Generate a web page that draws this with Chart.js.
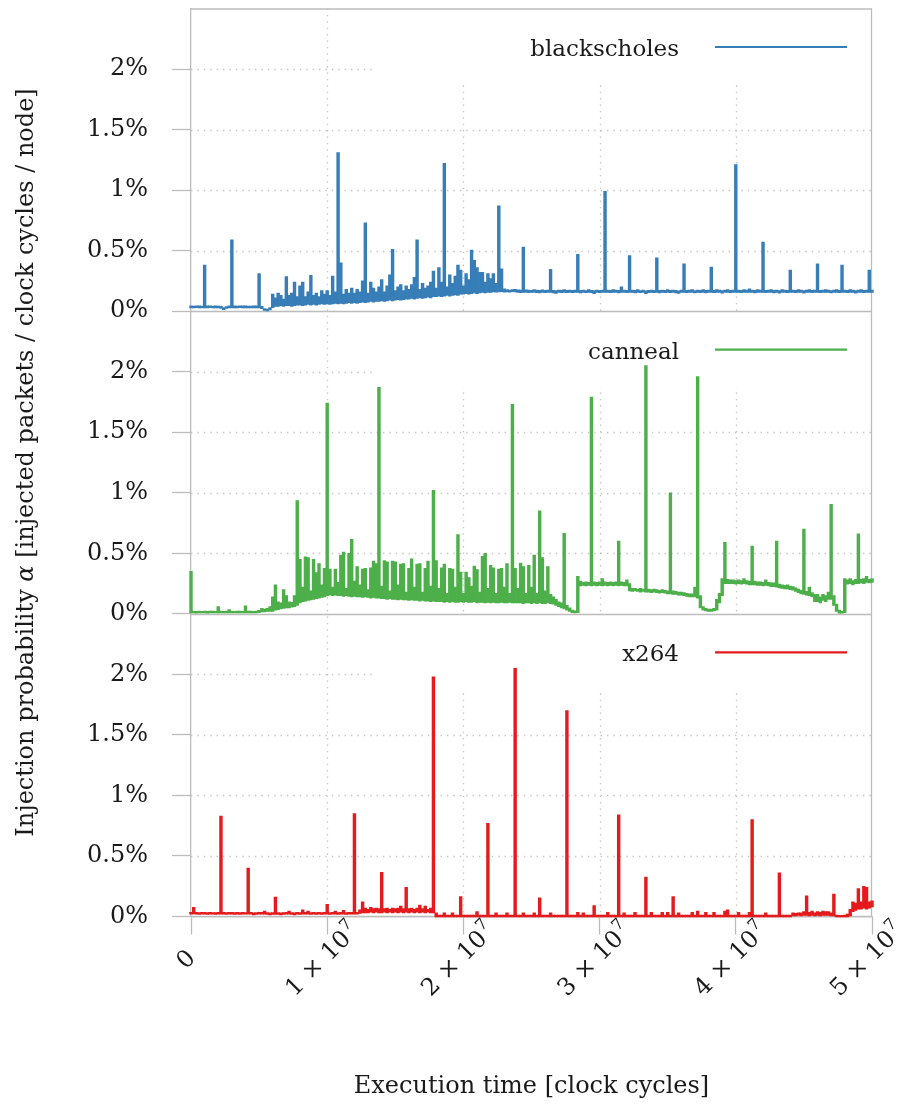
<!DOCTYPE html>
<html>
<head>
<meta charset="utf-8">
<script src="https://cdn.jsdelivr.net/npm/chart.js@4.4.1/dist/chart.umd.min.js"></script>
<style>
  html, body { margin: 0; padding: 0; background: #ffffff; }
  #wrap { width: 902px; height: 1108px; }
</style>
</head>
<body>
<div id="wrap"><canvas id="c" width="902" height="1108"></canvas></div>
<script>
// Injection probability traces, percent per node and clock cycle.
// Each sample covers 0.2 M cycles and stores the lowest and highest value in that window.
const seriesNames  = ['blackscholes', 'canneal', 'x264'];
const seriesColors = ['#377eb8', '#4daf4a', '#e41a1c'];
const sampleStep = 2e5;

const blackscholesHigh = [
  0.043,0.042,0.044,0.043,0.042,0.38,0.043,0.044,0.042,0.043,
  0.042,0.04,0.03,0.038,0.043,0.59,0.043,0.042,0.044,0.043,
  0.043,0.042,0.042,0.043,0.043,0.31,0.04,0.022,0.018,0.03,
  0.14,0.11,0.15,0.13,0.10,0.285,0.13,0.15,0.24,0.12,
  0.21,0.24,0.12,0.16,0.295,0.13,0.15,0.12,0.17,0.14,
  0.17,0.13,0.29,0.16,1.31,0.40,0.14,0.18,0.15,0.19,
  0.15,0.18,0.16,0.25,0.73,0.15,0.24,0.19,0.16,0.20,
  0.26,0.16,0.21,0.30,0.51,0.17,0.20,0.22,0.17,0.21,
  0.18,0.22,0.28,0.59,0.18,0.23,0.19,0.21,0.24,0.33,
  0.19,0.36,0.24,1.22,0.20,0.30,0.23,0.29,0.38,0.34,
  0.21,0.31,0.26,0.505,0.42,0.36,0.32,0.32,0.24,0.31,
  0.27,0.31,0.23,0.87,0.35,0.185,0.178,0.175,0.178,0.18,
  0.176,0.174,0.53,0.176,0.174,0.172,0.178,0.174,0.172,0.176,
  0.172,0.174,0.345,0.172,0.17,0.175,0.172,0.178,0.172,0.174,
  0.172,0.175,0.47,0.172,0.175,0.17,0.178,0.172,0.17,0.175,
  0.172,0.175,0.99,0.175,0.172,0.178,0.175,0.172,0.20,0.175,
  0.172,0.46,0.175,0.172,0.178,0.17,0.175,0.168,0.172,0.175,
  0.172,0.44,0.172,0.175,0.172,0.178,0.172,0.175,0.172,0.168,
  0.175,0.39,0.172,0.175,0.178,0.17,0.175,0.172,0.178,0.172,
  0.175,0.365,0.172,0.178,0.175,0.17,0.175,0.178,0.172,0.175,
  1.21,0.175,0.172,0.178,0.175,0.185,0.175,0.172,0.178,0.175,
  0.57,0.172,0.175,0.178,0.172,0.175,0.17,0.178,0.175,0.172,
  0.34,0.175,0.172,0.178,0.175,0.17,0.175,0.178,0.172,0.175,
  0.39,0.172,0.175,0.178,0.175,0.17,0.175,0.178,0.172,0.38,
  0.175,0.172,0.178,0.175,0.17,0.175,0.178,0.172,0.175,0.34,
  0.175
];
const blackscholesLow = [
  0.028,0.028,0.029,0.028,0.028,0.028,0.028,0.029,0.028,0.028,
  0.027,0.022,0.012,0.022,0.028,0.028,0.028,0.028,0.029,0.028,
  0.028,0.028,0.027,0.028,0.028,0.028,0.02,0.006,0.003,0.01,
  0.03,0.04,0.04,0.045,0.04,0.045,0.045,0.04,0.045,0.05,
  0.05,0.045,0.05,0.055,0.05,0.055,0.05,0.055,0.06,0.055,
  0.06,0.055,0.06,0.065,0.06,0.065,0.06,0.065,0.07,0.065,
  0.07,0.065,0.07,0.075,0.07,0.075,0.08,0.075,0.08,0.08,
  0.085,0.08,0.085,0.09,0.085,0.09,0.095,0.09,0.095,0.1,
  0.1,0.105,0.1,0.105,0.11,0.105,0.11,0.115,0.11,0.12,
  0.12,0.125,0.12,0.125,0.13,0.125,0.13,0.135,0.13,0.14,
  0.14,0.145,0.14,0.145,0.15,0.145,0.15,0.155,0.15,0.155,
  0.155,0.16,0.158,0.16,0.162,0.158,0.16,0.158,0.162,0.16,
  0.155,0.153,0.155,0.156,0.152,0.154,0.156,0.153,0.15,0.155,
  0.152,0.155,0.154,0.15,0.146,0.155,0.152,0.156,0.153,0.154,
  0.152,0.155,0.154,0.15,0.155,0.152,0.156,0.153,0.145,0.155,
  0.153,0.155,0.156,0.155,0.152,0.156,0.155,0.15,0.156,0.155,
  0.152,0.155,0.155,0.15,0.156,0.152,0.155,0.145,0.152,0.155,
  0.152,0.155,0.15,0.155,0.152,0.156,0.152,0.155,0.15,0.146,
  0.155,0.154,0.152,0.155,0.156,0.15,0.155,0.152,0.156,0.15,
  0.155,0.154,0.152,0.156,0.155,0.148,0.155,0.156,0.152,0.155,
  0.155,0.155,0.152,0.156,0.155,0.155,0.155,0.15,0.156,0.155,
  0.155,0.152,0.155,0.156,0.15,0.155,0.148,0.156,0.155,0.152,
  0.155,0.155,0.152,0.156,0.155,0.148,0.155,0.156,0.152,0.155,
  0.155,0.152,0.155,0.156,0.155,0.15,0.155,0.156,0.152,0.155,
  0.155,0.152,0.156,0.155,0.148,0.155,0.156,0.152,0.155,0.155,
  0.155
];

const cannealHigh = [
  0.35,0.022,0.02,0.022,0.021,0.022,0.02,0.022,0.022,0.021,
  0.06,0.022,0.021,0.022,0.035,0.022,0.021,0.022,0.022,0.021,
  0.065,0.022,0.022,0.021,0.022,0.028,0.045,0.04,0.045,0.06,
  0.14,0.24,0.10,0.09,0.20,0.15,0.10,0.095,0.15,0.935,
  0.45,0.22,0.47,0.465,0.19,0.45,0.34,0.415,0.24,0.375,
  1.74,0.37,0.22,0.37,0.26,0.485,0.51,0.21,0.50,0.615,
  0.27,0.39,0.24,0.37,0.375,0.20,0.38,0.435,0.415,1.87,
  0.23,0.44,0.43,0.19,0.435,0.43,0.24,0.41,0.415,0.18,
  0.375,0.455,0.22,0.41,0.415,0.18,0.375,0.435,0.23,1.02,
  0.44,0.21,0.38,0.41,0.17,0.375,0.37,0.22,0.655,0.345,
  0.17,0.345,0.30,0.23,0.395,0.365,0.18,0.475,0.50,0.21,
  0.40,0.38,0.17,0.37,0.375,0.22,0.415,0.17,1.73,0.375,
  0.21,0.42,0.39,0.17,0.40,0.22,0.485,0.17,0.85,0.465,
  0.19,0.39,0.16,0.14,0.12,0.10,0.09,0.665,0.07,0.05,
  0.03,0.025,0.31,0.27,0.26,0.265,0.26,1.79,0.265,0.26,
  0.265,0.29,0.265,0.26,0.265,0.26,0.265,0.60,0.265,0.26,
  0.28,0.25,0.21,0.21,0.205,0.21,0.205,2.05,0.205,0.20,
  0.205,0.20,0.195,0.20,0.195,0.19,1.0,0.19,0.185,0.18,
  0.18,0.175,0.17,0.165,0.165,0.22,1.96,0.15,0.06,0.045,
  0.04,0.04,0.045,0.12,0.17,0.29,0.59,0.285,0.28,0.28,
  0.275,0.28,0.275,0.29,0.275,0.27,0.56,0.27,0.265,0.265,
  0.26,0.28,0.26,0.255,0.255,0.60,0.245,0.24,0.235,0.24,
  0.23,0.225,0.215,0.205,0.195,0.70,0.185,0.22,0.175,0.16,
  0.16,0.14,0.16,0.15,0.18,0.905,0.15,0.08,0.03,0.02,
  0.29,0.28,0.29,0.275,0.285,0.66,0.285,0.29,0.31,0.285,
  0.29
];
const cannealLow = [
  0.008,0.008,0.006,0.008,0.007,0.008,0.006,0.008,0.008,0.007,
  0.008,0.008,0.007,0.008,0.008,0.008,0.007,0.008,0.008,0.007,
  0.008,0.008,0.008,0.007,0.008,0.01,0.015,0.015,0.02,0.02,
  0.02,0.03,0.035,0.04,0.045,0.05,0.05,0.055,0.06,0.07,
  0.09,0.1,0.105,0.11,0.115,0.12,0.125,0.13,0.135,0.14,
  0.15,0.155,0.15,0.155,0.15,0.15,0.145,0.15,0.145,0.14,
  0.145,0.14,0.14,0.135,0.14,0.135,0.13,0.135,0.13,0.13,
  0.125,0.125,0.12,0.125,0.12,0.12,0.115,0.12,0.115,0.115,
  0.11,0.115,0.11,0.11,0.105,0.11,0.105,0.105,0.1,0.105,
  0.1,0.1,0.1,0.095,0.1,0.095,0.1,0.095,0.095,0.1,
  0.095,0.1,0.095,0.095,0.1,0.09,0.095,0.095,0.09,0.095,
  0.09,0.095,0.09,0.09,0.095,0.09,0.09,0.095,0.09,0.09,
  0.09,0.09,0.085,0.09,0.09,0.085,0.09,0.085,0.09,0.085,
  0.085,0.09,0.085,0.08,0.07,0.06,0.05,0.04,0.03,0.02,
  0.01,0.008,0.01,0.23,0.235,0.23,0.235,0.23,0.235,0.23,
  0.235,0.23,0.235,0.23,0.235,0.23,0.235,0.23,0.235,0.23,
  0.23,0.19,0.185,0.19,0.185,0.18,0.185,0.18,0.18,0.175,
  0.18,0.175,0.17,0.175,0.17,0.165,0.165,0.16,0.16,0.155,
  0.155,0.15,0.145,0.14,0.14,0.14,0.13,0.05,0.03,0.025,
  0.02,0.02,0.025,0.03,0.09,0.15,0.25,0.25,0.25,0.25,
  0.245,0.25,0.245,0.25,0.245,0.24,0.24,0.24,0.235,0.235,
  0.23,0.235,0.23,0.225,0.225,0.22,0.215,0.21,0.205,0.205,
  0.2,0.195,0.185,0.175,0.165,0.16,0.155,0.15,0.14,0.1,
  0.1,0.09,0.11,0.1,0.12,0.12,0.07,0.02,0.005,0.005,
  0.01,0.245,0.25,0.24,0.25,0.25,0.255,0.25,0.26,0.255,
  0.26
];

const x264High = [
  0.035,0.075,0.035,0.032,0.035,0.034,0.032,0.035,0.033,0.032,
  0.035,0.83,0.035,0.032,0.034,0.035,0.032,0.034,0.032,0.035,
  0.033,0.40,0.035,0.03,0.032,0.035,0.034,0.045,0.032,0.03,
  0.032,0.16,0.032,0.03,0.032,0.035,0.045,0.032,0.03,0.035,
  0.032,0.055,0.035,0.045,0.032,0.034,0.032,0.035,0.032,0.034,
  0.10,0.032,0.035,0.045,0.032,0.035,0.05,0.032,0.035,0.034,
  0.85,0.035,0.055,0.12,0.07,0.06,0.075,0.065,0.07,0.065,
  0.365,0.065,0.07,0.06,0.07,0.065,0.07,0.085,0.065,0.24,
  0.065,0.07,0.06,0.07,0.095,0.065,0.085,0.06,0.07,1.98,
  0.03,0.012,0.012,0.03,0.012,0.012,0.03,0.012,0.012,0.165,
  0.012,0.012,0.012,0.012,0.012,0.04,0.012,0.012,0.012,0.77,
  0.012,0.012,0.03,0.012,0.012,0.012,0.03,0.012,0.012,2.05,
  0.012,0.012,0.03,0.012,0.012,0.012,0.03,0.012,0.155,0.012,
  0.012,0.012,0.03,0.012,0.012,0.012,0.012,0.012,1.70,0.012,
  0.012,0.012,0.035,0.012,0.03,0.012,0.012,0.012,0.09,0.012,
  0.012,0.012,0.012,0.035,0.012,0.012,0.012,0.84,0.012,0.03,
  0.012,0.012,0.012,0.035,0.012,0.012,0.012,0.325,0.012,0.035,
  0.012,0.012,0.012,0.035,0.012,0.035,0.012,0.165,0.012,0.03,
  0.012,0.012,0.012,0.012,0.035,0.012,0.045,0.012,0.012,0.035,
  0.012,0.012,0.035,0.012,0.012,0.012,0.045,0.055,0.012,0.012,
  0.012,0.035,0.012,0.012,0.012,0.035,0.80,0.012,0.012,0.012,
  0.012,0.03,0.012,0.012,0.012,0.012,0.36,0.012,0.012,0.012,
  0.012,0.03,0.025,0.03,0.03,0.04,0.17,0.035,0.045,0.03,
  0.04,0.035,0.045,0.04,0.04,0.03,0.185,0.012,0.01,0.01,
  0.012,0.02,0.06,0.12,0.11,0.23,0.12,0.25,0.24,0.12,
  0.13
];
const x264Low = [
  0.02,0.022,0.02,0.018,0.02,0.02,0.018,0.02,0.02,0.018,
  0.02,0.02,0.02,0.018,0.02,0.02,0.018,0.02,0.018,0.02,
  0.02,0.02,0.02,0.014,0.018,0.02,0.02,0.02,0.018,0.014,
  0.018,0.018,0.018,0.014,0.018,0.02,0.02,0.018,0.014,0.02,
  0.018,0.02,0.02,0.02,0.018,0.02,0.018,0.02,0.018,0.02,
  0.02,0.018,0.02,0.02,0.018,0.02,0.02,0.018,0.02,0.02,
  0.02,0.02,0.025,0.03,0.03,0.03,0.035,0.03,0.035,0.03,
  0.03,0.035,0.03,0.035,0.03,0.035,0.03,0.035,0.03,0.035,
  0.03,0.035,0.03,0.035,0.03,0.035,0.03,0.035,0.03,0.03,
  -0.004,-0.004,-0.004,-0.004,-0.004,-0.004,-0.004,-0.004,-0.004,-0.004,
  -0.004,-0.004,-0.004,-0.004,-0.004,-0.004,-0.004,-0.004,-0.004,-0.004,
  -0.004,-0.004,-0.004,-0.004,-0.004,-0.004,-0.004,-0.004,-0.004,-0.004,
  -0.004,-0.004,-0.004,-0.004,-0.004,-0.004,-0.004,-0.004,-0.004,-0.004,
  -0.004,-0.004,-0.004,-0.004,-0.004,-0.004,-0.004,-0.004,-0.004,-0.004,
  -0.004,-0.004,-0.004,-0.004,-0.004,-0.004,-0.004,-0.004,-0.004,-0.004,
  -0.004,-0.004,-0.004,-0.004,-0.004,-0.004,-0.004,-0.004,-0.004,-0.004,
  -0.004,-0.004,-0.004,-0.004,-0.004,-0.004,-0.004,-0.004,-0.004,-0.004,
  -0.004,-0.004,-0.004,-0.004,-0.004,-0.004,-0.004,-0.004,-0.004,-0.004,
  -0.004,-0.004,-0.004,-0.004,-0.004,-0.004,-0.004,-0.004,-0.004,-0.004,
  -0.004,-0.004,-0.004,-0.004,-0.004,-0.004,-0.004,-0.004,-0.004,-0.004,
  -0.004,-0.004,-0.004,-0.004,-0.004,-0.004,-0.004,-0.004,-0.004,-0.004,
  -0.004,-0.004,-0.004,-0.004,-0.004,-0.004,-0.004,-0.004,-0.004,-0.004,
  -0.004,0.0,0.005,0.01,0.005,0.01,0.01,0.005,0.01,0.005,
  0.01,0.005,0.01,0.01,0.01,0.0,0.0,-0.004,-0.004,-0.004,
  -0.004,-0.004,0.005,0.04,0.05,0.06,0.06,0.07,0.06,0.07,
  0.08
];

const sampleTimes = blackscholesHigh.map((_, i) => i * sampleStep);

const xTickValues = [0, 1e7, 2e7, 3e7, 4e7, 5e7];
const xTickMain   = ['0', '1 × 10', '2 × 10', '3 × 10', '4 × 10', '5 × 10'];
const xTickSup    = ['', '7', '7', '7', '7', '7'];
const yTickValues = [0, 0.5, 1, 1.5, 2];
const yTickLabels = ['0%', '0.5%', '1%', '1.5%', '2%'];

const xTitle = 'Execution time [clock cycles]';
const yTitleParts = ['Injection probability ', 'α', ' [injected packets / clock cycles / node]'];

const FONT = '"DejaVu Serif", serif';
const textColor = '#1a1a1a';
const frameColor = '#bcbcbc';
const dotColor = '#c4c4c4';

// panel axes listed bottom-to-top; the layout stacks the last one on top
const panelAxisIds = ['yX', 'yC', 'yB'];
const seriesAxis = { blackscholes: 'yB', canneal: 'yC', x264: 'yX' };
const seriesLow  = { blackscholes: blackscholesLow,  canneal: cannealLow,  x264: x264Low };
const seriesHigh = { blackscholes: blackscholesHigh, canneal: cannealHigh, x264: x264High };

function panelAxis() {
  return {
    type: 'linear',
    position: 'left',
    stack: 'panels',
    stackWeight: 1,
    min: 0,
    max: 2.5,
    afterBuildTicks(s) { s.ticks = yTickValues.map(v => ({ value: v })); },
    afterFit(s) { s.width = 191; s.paddingTop = 0; s.paddingBottom = 0; },
    ticks: {
      autoSkip: false,
      padding: 24,
      color: textColor,
      font: { family: FONT, size: 24 },
      callback: (v) => yTickLabels[yTickValues.indexOf(v)]
    },
    grid: { drawOnChartArea: false, drawTicks: true, tickLength: 19, tickColor: frameColor, tickWidth: 1.3 },
    border: { display: true, color: frameColor, width: 1.3 }
  };
}

function strokeLine(ctx, x1, y1, x2, y2) {
  ctx.beginPath(); ctx.moveTo(x1, y1); ctx.lineTo(x2, y2); ctx.stroke();
}

const panelDecor = {
  id: 'panelDecor',
  beforeDatasetsDraw(chart) {
    const { ctx, chartArea: ca, scales } = chart;
    const xs = scales.x;
    ctx.save();
    // dotted grid
    ctx.strokeStyle = dotColor;
    ctx.lineWidth = 1.3;
    ctx.setLineDash([1.4, 5]);
    panelAxisIds.forEach(id => {
      const s = scales[id];
      yTickValues.forEach(v => {
        if (v === 0) return;
        const y = Math.round(s.getPixelForValue(v)) + 0.5;
        strokeLine(ctx, ca.left, y, ca.right, y);
      });
    });
    xTickValues.forEach((v, k) => {
      if (k === 0 || k === xTickValues.length - 1) return;
      const x = Math.round(xs.getPixelForValue(v)) + 0.5;
      strokeLine(ctx, x, ca.top, x, ca.bottom);
    });
    ctx.setLineDash([]);

    // legend backgrounds
    const boxW = 500, boxH = 76.5;
    panelAxisIds.forEach(id => {
      const s = scales[id];
      ctx.fillStyle = '#ffffff';
      ctx.fillRect(ca.right - boxW, s.top, boxW, boxH);
    });

    // solid frame: top, right and the zero line of each panel
    ctx.strokeStyle = frameColor;
    ctx.lineWidth = 1.3;
    strokeLine(ctx, ca.left, ca.top + 0.5, ca.right, ca.top + 0.5);
    strokeLine(ctx, ca.right - 0.5, ca.top, ca.right - 0.5, ca.bottom);
    panelAxisIds.forEach(id => {
      const y = Math.round(scales[id].getPixelForValue(0)) + 0.5;
      strokeLine(ctx, ca.left, y, ca.right, y);
    });

    // legend entries
    seriesNames.forEach((name, k) => {
      const s = scales[seriesAxis[name]];
      const y = s.top + 38.5;
      ctx.fillStyle = textColor;
      ctx.font = '23px ' + FONT;
      ctx.textAlign = 'right';
      ctx.textBaseline = 'alphabetic';
      ctx.fillText(name, ca.right - 193, y + 9);
      ctx.strokeStyle = seriesColors[k];
      ctx.lineWidth = 2.2;
      strokeLine(ctx, ca.right - 157, y, ca.right - 25, y);
    });
    ctx.restore();
  },
  afterDraw(chart) {
    const { ctx, chartArea: ca, scales } = chart;
    const xs = scales.x;
    ctx.save();
    ctx.fillStyle = textColor;
    // rotated x tick labels, centred below each tick
    xTickValues.forEach((v, k) => {
      const cx = xs.getPixelForValue(v) - 6;
      const cy = ca.bottom + 42;
      ctx.save();
      ctx.translate(cx, cy);
      ctx.rotate(-Math.PI / 4);
      ctx.font = '24px ' + FONT;
      const wm = ctx.measureText(xTickMain[k]).width;
      ctx.font = '16px ' + FONT;
      const ws = xTickSup[k] ? ctx.measureText(xTickSup[k]).width + 1 : 0;
      const x0 = -(wm + ws) / 2;
      ctx.textAlign = 'left';
      ctx.textBaseline = 'alphabetic';
      ctx.font = '24px ' + FONT;
      ctx.fillText(xTickMain[k], x0, 8.6);
      if (xTickSup[k]) {
        ctx.font = '16px ' + FONT;
        ctx.fillText(xTickSup[k], x0 + wm + 1, -1.8);
      }
      ctx.restore();
    });

    // x axis title
    ctx.font = '24px ' + FONT;
    ctx.textAlign = 'center';
    ctx.textBaseline = 'alphabetic';
    ctx.fillText(xTitle, (ca.left + ca.right) / 2, 1093);

    // y axis title with italic alpha
    ctx.save();
    ctx.translate(27, (ca.top + ca.bottom) / 2);
    ctx.rotate(-Math.PI / 2);
    const fonts = ['24px ' + FONT, 'italic 24px ' + FONT, '24px ' + FONT];
    const widths = yTitleParts.map((t, k) => { ctx.font = fonts[k]; return ctx.measureText(t).width; });
    let x = -widths.reduce((a, b) => a + b, 0) / 2;
    ctx.textAlign = 'left';
    ctx.textBaseline = 'middle';
    yTitleParts.forEach((t, k) => { ctx.font = fonts[k]; ctx.fillText(t, x, 0); x += widths[k]; });
    ctx.restore();
    ctx.restore();
  }
};

Chart.defaults.font.family = FONT;

// each sample is drawn as a floating bar spanning its low..high range
const datasets = seriesNames.map((name, k) => ({
  type: 'bar',
  label: name,
  data: seriesLow[name].map((lo, i) => [lo, seriesHigh[name][i]]),
  yAxisID: seriesAxis[name],
  backgroundColor: seriesColors[k],
  borderWidth: 0,
  barPercentage: 1,
  categoryPercentage: 1,
  grouped: false,
  inflateAmount: 0.35,
  clip: 4
}));

new Chart(document.getElementById('c'), {
  type: 'line',
  data: { labels: sampleTimes, datasets },
  options: {
    responsive: false,
    animation: false,
    devicePixelRatio: 1,
    layout: { padding: { top: 8.5, right: 30, left: 0, bottom: 0 } },
    plugins: { legend: { display: false }, tooltip: { enabled: false }, title: { display: false } },
    scales: {
      x: {
        type: 'linear',
        min: 0,
        max: 5e7,
        offset: false,
        afterBuildTicks(s) { s.ticks = xTickValues.map(v => ({ value: v })); },
        afterFit(s) { s.height = 191.5; s.paddingLeft = 0; s.paddingRight = 0; },
        ticks: { display: false },
        grid: { drawOnChartArea: false, drawTicks: true, tickLength: 18, tickColor: frameColor, tickWidth: 1.3, offset: false },
        border: { display: true, color: frameColor, width: 1.3 }
      },
      yX: panelAxis(),
      yC: panelAxis(),
      yB: panelAxis()
    }
  },
  plugins: [panelDecor]
});
</script>
</body>
</html>
